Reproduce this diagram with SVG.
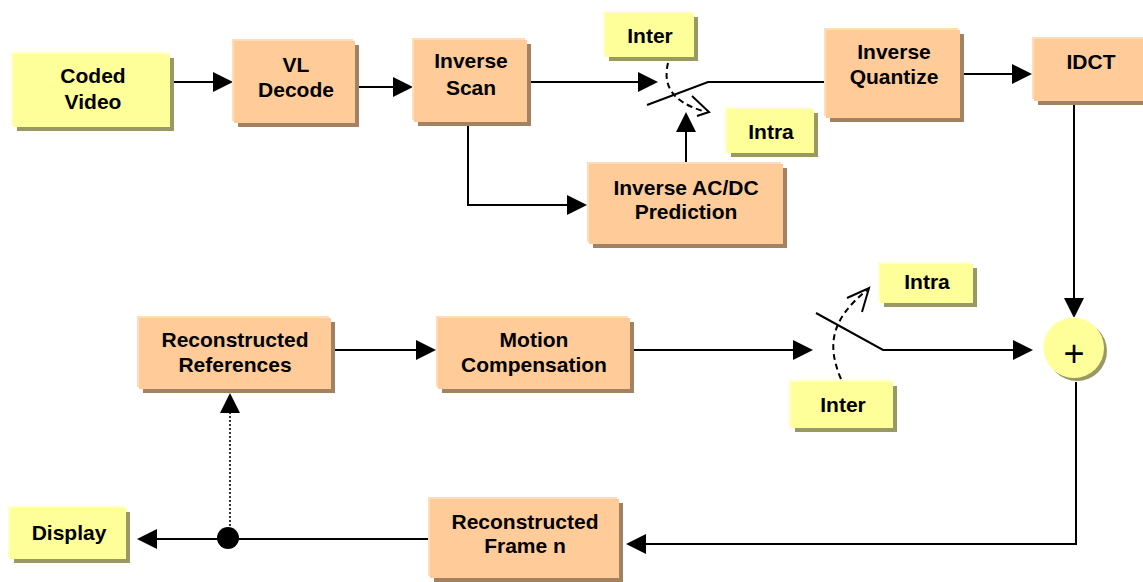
<svg xmlns="http://www.w3.org/2000/svg" width="1143" height="582" viewBox="0 0 1143 582">
  <style>
    .o-sh { fill: #A38262; }
    .o-hl { fill: #FFDDBB; }
    .o { fill: #FFCC99; }
    .y-sh { fill: #999966; }
    .y-hl { fill: #FFFFCC; }
    .y { fill: #FFFF99; }
    .t { font-family: "Liberation Sans", Arial, sans-serif; font-weight: bold; font-size: 21px; text-anchor: middle; fill: #000; }
    .plus { font-family: "Liberation Sans", Arial, sans-serif; font-size: 36px; text-anchor: middle; fill: #000; }
    .ln { fill: none; stroke: #000; stroke-width: 2; }
    .arr { marker-end: url(#head); }
    .dash { fill: none; stroke: #000; stroke-width: 2; stroke-dasharray: 6 4; }
    .dot { fill: none; stroke: #333; stroke-width: 2; stroke-dasharray: 2 2; }
  </style>
  <defs>
    <marker id="head" markerUnits="userSpaceOnUse" markerWidth="20" markerHeight="20" refX="16" refY="10" orient="auto">
      <path d="M0,0 L20,10 L0,20 Z" fill="#000"/>
    </marker>
  </defs>

  <rect width="1143" height="582" fill="#fff"/>

  <!-- connectors -->
  <g id="connectors">
    <line class="ln arr" x1="174" y1="82" x2="229" y2="82"/>
    <line class="ln arr" x1="359" y1="87" x2="409" y2="87"/>
    <line class="ln arr" x1="531" y1="82" x2="654" y2="82"/>
    <polyline class="ln" points="647,105 708,82 826,82"/>
    <path class="dash" d="M668,63 C663,84 670,101 703,111"/>
    <polyline class="ln" points="692,96 709,112 697,116"/>
    <polyline class="ln arr" points="468,126 468,205 583,205"/>
    <line class="ln arr" x1="686" y1="164" x2="686" y2="116"/>
    <line class="ln arr" x1="964" y1="74" x2="1028" y2="74"/>
    <line class="ln arr" x1="1074" y1="105" x2="1074" y2="314"/>
    <line class="ln arr" x1="335" y1="350" x2="432" y2="350"/>
    <line class="ln arr" x1="634" y1="350" x2="809" y2="350"/>
    <polyline class="ln arr" points="816,313 883,350 1029,350"/>
    <path class="dash" d="M841,379 C827,346 830,320 867,290"/>
    <polyline class="ln" points="847,298 869,288 862,312"/>
    <polyline class="ln arr" points="1076,382 1076,544 630,544"/>
    <line class="ln arr" x1="430" y1="539" x2="141" y2="539"/>
    <line class="dot" x1="230" y1="530" x2="230" y2="410"/>
    <path d="M230,393 L240,413 L220,413 Z" fill="#000"/>
    <circle cx="228" cy="538" r="11" fill="#000"/>
  </g>

  <!-- nodes -->
  <g id="coded-video">
    <rect class="y-sh" x="17" y="58" width="157" height="73"/>
    <rect class="y-hl" x="11" y="52" width="157" height="73"/>
    <rect class="y" x="13" y="54" width="157" height="73"/>
    <text class="t" x="93" y="83">Coded</text>
    <text class="t" x="93" y="109">Video</text>
  </g>

  <g id="vl-decode">
    <rect class="o-sh" x="238" y="45" width="121" height="82"/>
    <rect class="o-hl" x="232" y="39" width="121" height="82"/>
    <rect class="o" x="234" y="41" width="121" height="82"/>
    <text class="t" x="296" y="72">VL</text>
    <text class="t" x="296" y="97">Decode</text>
  </g>

  <g id="inverse-scan">
    <rect class="o-sh" x="418" y="44" width="113" height="82"/>
    <rect class="o-hl" x="412" y="38" width="113" height="82"/>
    <rect class="o" x="414" y="40" width="113" height="82"/>
    <text class="t" x="471" y="68">Inverse</text>
    <text class="t" x="471" y="95">Scan</text>
  </g>

  <g id="inter-top">
    <rect class="y-sh" x="609" y="17" width="89" height="44"/>
    <rect class="y-hl" x="603" y="11" width="89" height="44"/>
    <rect class="y" x="605" y="13" width="89" height="44"/>
    <text class="t" x="650" y="43">Inter</text>
  </g>

  <g id="intra-top">
    <rect class="y-sh" x="731" y="113" width="87" height="44"/>
    <rect class="y-hl" x="725" y="107" width="87" height="44"/>
    <rect class="y" x="727" y="109" width="87" height="44"/>
    <text class="t" x="771" y="139">Intra</text>
  </g>

  <g id="inverse-acdc">
    <rect class="o-sh" x="593" y="168" width="194" height="80"/>
    <rect class="o-hl" x="587" y="162" width="194" height="80"/>
    <rect class="o" x="589" y="164" width="194" height="80"/>
    <text class="t" x="686" y="195">Inverse AC/DC</text>
    <text class="t" x="686" y="219">Prediction</text>
  </g>

  <g id="inverse-quantize">
    <rect class="o-sh" x="830" y="34" width="134" height="88"/>
    <rect class="o-hl" x="824" y="28" width="134" height="88"/>
    <rect class="o" x="826" y="30" width="134" height="88"/>
    <text class="t" x="894" y="59">Inverse</text>
    <text class="t" x="894" y="84">Quantize</text>
  </g>

  <g id="idct">
    <rect class="o-sh" x="1038" y="43" width="114" height="62"/>
    <rect class="o-hl" x="1032" y="37" width="114" height="62"/>
    <rect class="o" x="1034" y="39" width="114" height="62"/>
    <text class="t" x="1091" y="69">IDCT</text>
  </g>

  <g id="adder">
    <circle cx="1077" cy="351" r="30" fill="#999966"/>
    <circle cx="1073" cy="347" r="30" fill="#FFFFCC"/>
    <circle cx="1074" cy="348" r="30" fill="#FFFF99"/>
    <text class="plus" x="1074" y="366">+</text>
  </g>

  <g id="intra-bottom">
    <rect class="y-sh" x="884" y="268" width="93" height="39"/>
    <rect class="y-hl" x="878" y="262" width="93" height="39"/>
    <rect class="y" x="880" y="264" width="93" height="39"/>
    <text class="t" x="927" y="289">Intra</text>
  </g>

  <g id="inter-bottom">
    <rect class="y-sh" x="795" y="386" width="102" height="46"/>
    <rect class="y-hl" x="789" y="380" width="102" height="46"/>
    <rect class="y" x="791" y="382" width="102" height="46"/>
    <text class="t" x="843" y="412">Inter</text>
  </g>

  <g id="reconstructed-references">
    <rect class="o-sh" x="143" y="322" width="192" height="71"/>
    <rect class="o-hl" x="137" y="316" width="192" height="71"/>
    <rect class="o" x="139" y="318" width="192" height="71"/>
    <text class="t" x="235" y="347">Reconstructed</text>
    <text class="t" x="235" y="372">References</text>
  </g>

  <g id="motion-compensation">
    <rect class="o-sh" x="442" y="322" width="192" height="71"/>
    <rect class="o-hl" x="436" y="316" width="192" height="71"/>
    <rect class="o" x="438" y="318" width="192" height="71"/>
    <text class="t" x="534" y="347">Motion</text>
    <text class="t" x="534" y="372">Compensation</text>
  </g>

  <g id="display">
    <rect class="y-sh" x="14" y="512" width="116" height="51"/>
    <rect class="y-hl" x="8" y="506" width="116" height="51"/>
    <rect class="y" x="10" y="508" width="116" height="51"/>
    <text class="t" x="69" y="540">Display</text>
  </g>

  <g id="reconstructed-frame">
    <rect class="o-sh" x="434" y="503" width="189" height="79"/>
    <rect class="o-hl" x="428" y="497" width="189" height="79"/>
    <rect class="o" x="430" y="499" width="189" height="79"/>
    <text class="t" x="525" y="529">Reconstructed</text>
    <text class="t" x="525" y="553">Frame n</text>
  </g>
</svg>
